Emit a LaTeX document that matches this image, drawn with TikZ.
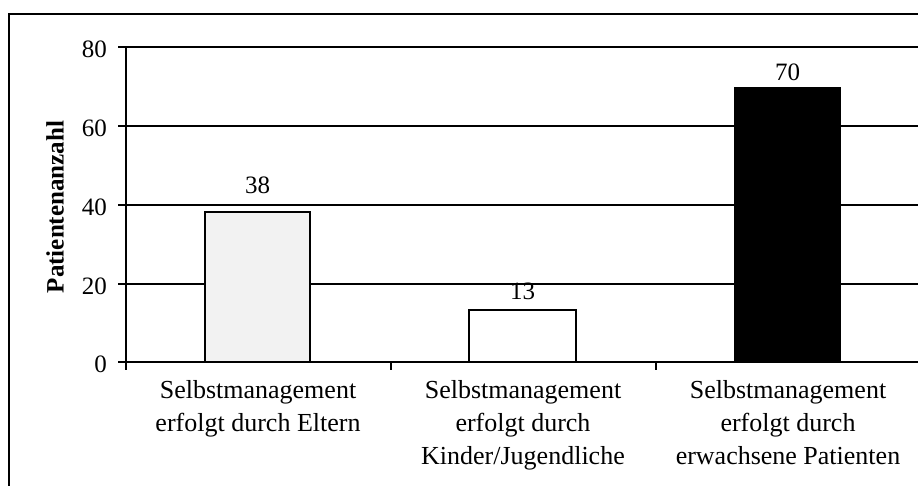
\documentclass[tikz,border=0pt]{standalone}
\usepackage{fontspec}
\setmainfont{Liberation Serif}
\begin{document}
\begin{tikzpicture}[x=1pt,y=-1pt,
  axisline/.style={line width=2pt,black},
  gridline/.style={line width=1.6pt,black},
  barbox/.style={draw=black,line width=1.5pt},
  ticklbl/.style={anchor=east,inner sep=0pt,font=\fontsize{25}{30}\selectfont},
  vallbl/.style={anchor=base,inner sep=0pt,font=\fontsize{25}{30}\selectfont},
  catlbl/.style={anchor=north,align=center,inner sep=0pt,font=\fontsize{26}{33}\selectfont}]
\useasboundingbox (0,0) rectangle (918,486);
\fill[white] (0,0) rectangle (918,486);
% outer frame
\coordinate (ftr) at (918,14);
\coordinate (ftl) at (9,14);
\coordinate (fbl) at (9,486);
\draw[line width=2pt] (ftr) -- (ftl) -- (fbl);
% axis anchors
\coordinate (o) at (126,362);
\coordinate (yt) at (126,47);
\coordinate (xr) at (918,362);
% gridlines
\foreach \v/\yy in {20/284,40/205,60/126,80/47}{
  \draw[gridline] (126,\yy) -- (918,\yy);
}
% bars
\draw[barbox,fill={rgb,255:red,242;green,242;blue,242}] (205,362) rectangle (310,212);
\draw[barbox,fill=white] (469,362) rectangle (576,310);
\fill[black] (734,362) rectangle (841,87);
% axes
\draw[axisline] (yt) -- (o) -- (xr);
% y ticks and labels
\foreach \v/\yy in {0/362,20/284,40/205,60/126,80/47}{
  \draw[line width=1.6pt] (118,\yy) -- (126,\yy);
  \node[ticklbl] (t\v) at (107,\yy+2) {\v};
}
% x ticks
\foreach \xx in {126,391,656}{
  \draw[line width=1.6pt] (\xx,362) -- (\xx,370);
}
% value labels
\node[vallbl] (v1) at (257.5,194) {38};
\node[vallbl] (v2) at (522.5,300) {13};
\node[vallbl] (v3) at (787.5,81) {70};
% category labels
\node[catlbl] (c1) at (258,380) {Selbstmanagement\\erfolgt durch Eltern};
\node[catlbl] (c2) at (523,380) {Selbstmanagement\\erfolgt durch\\Kinder/Jugendliche};
\node[catlbl] (c3) at (788,380) {Selbstmanagement\\erfolgt durch\\erwachsene Patienten};
% y axis title
\node[rotate=90,inner sep=0pt,font=\fontsize{25}{30}\selectfont\bfseries] (ytitle) at (55,207) {Patientenanzahl};
\end{tikzpicture}
\end{document}
